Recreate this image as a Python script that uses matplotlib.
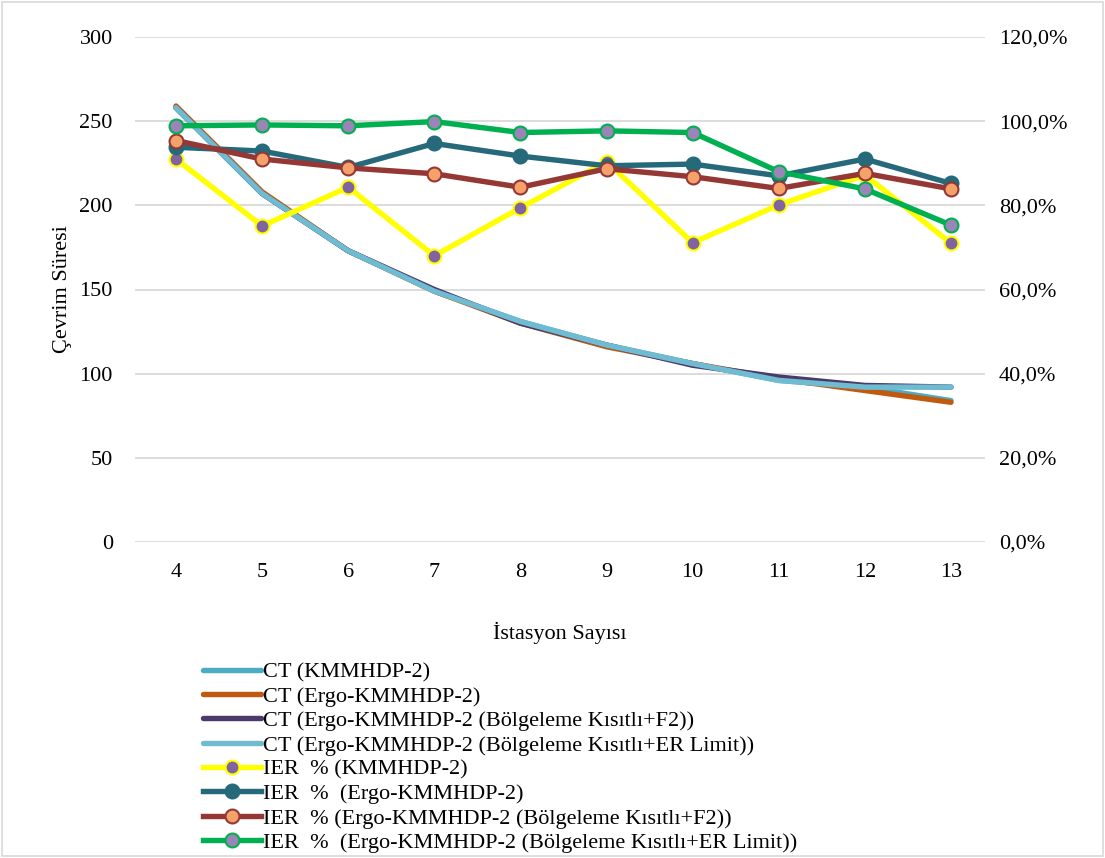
import matplotlib
matplotlib.use("Agg")
import matplotlib.pyplot as plt
from matplotlib.ticker import FuncFormatter
from matplotlib.patches import Rectangle

plt.rcParams["font.family"] = ["Liberation Serif", "DejaVu Serif"]

stations = [4, 5, 6, 7, 8, 9, 10, 11, 12, 13]

ct_kmm = [258, 207, 173, 149, 131, 117, 106, 96, 92, 84]
ct_ergo = [259, 208, 173, 149, 130, 116, 106, 97, 90, 83]
ct_f2 = [258, 207, 173, 150, 130, 117, 105, 98, 93, 92]
ct_er = [258, 207, 173, 149, 131, 117, 106, 96, 92, 92]

ier_kmm = [91.0, 75.1, 84.3, 68.0, 79.4, 90.4, 71.1, 80.1, 87.2, 71.0]
ier_ergo = [93.8, 92.9, 89.0, 94.7, 91.7, 89.4, 89.8, 87.0, 91.0, 85.2]
ier_f2 = [95.4, 91.0, 88.9, 87.5, 84.3, 88.7, 86.8, 84.0, 87.6, 83.9]
ier_er = [98.9, 99.1, 98.9, 99.9, 97.3, 97.7, 97.3, 88.0, 83.9, 75.3]

W, H = 1105, 858
fig = plt.figure(figsize=(W / 100, H / 100), dpi=100)
ax = fig.add_axes([135 / W, 1 - 542 / H, (985 - 135) / W, (542 - 37) / H])
ax2 = ax.twinx()

fs = 16
lw = 3.9

ax.plot(stations, ct_kmm, color="#4BACC6", lw=lw, solid_capstyle="round", label="CT (KMMHDP-2)")
ax.plot(stations, ct_ergo, color="#C05A0E", lw=lw, solid_capstyle="round", label="CT (Ergo-KMMHDP-2)")
ax.plot(stations, ct_f2, color="#4A3A6A", lw=lw, solid_capstyle="round",
        label="CT (Ergo-KMMHDP-2 (Bölgeleme Kısıtlı+F2))")
ax.plot(stations, ct_er, color="#6FBCD2", lw=lw, solid_capstyle="round",
        label="CT (Ergo-KMMHDP-2 (Bölgeleme Kısıtlı+ER Limit))")

ms = 10
mew = 1.5
ax2.plot(stations, ier_kmm, color="#FFFF00", lw=lw, marker="o", ms=ms,
         mfc="#8064A2", mec="#FFFF00", mew=mew, label="IER  % (KMMHDP-2)")
ax2.plot(stations, ier_ergo, color="#25697A", lw=lw, marker="o", ms=ms,
         mfc="#25697A", mec="#25697A", mew=mew, label="IER  %  (Ergo-KMMHDP-2)")
ax2.plot(stations, ier_f2, color="#953735", lw=lw, marker="o", ms=ms,
         mfc="#F5A26A", mec="#953735", mew=mew,
         label="IER  % (Ergo-KMMHDP-2 (Bölgeleme Kısıtlı+F2))")
ax2.plot(stations, ier_er, color="#00B050", lw=lw, marker="o", ms=ms,
         mfc="#9A84B8", mec="#00B050", mew=mew,
         label="IER  %  (Ergo-KMMHDP-2 (Bölgeleme Kısıtlı+ER Limit))")

ax.set_xlim(3.524, 13.395)
ax.set_ylim(0, 300)
ax2.set_ylim(0, 120)
ax.set_xticks(stations)
ax.set_yticks(range(0, 301, 50))
ax2.set_yticks(range(0, 121, 20))
ax2.yaxis.set_major_formatter(FuncFormatter(lambda v, p: f"{v:.1f}%".replace(".", ",")))

ax.grid(axis="y", color="#D9D9D9", lw=1.3)
ax.set_axisbelow(True)
for a in (ax, ax2):
    for s in a.spines.values():
        s.set_visible(False)
ax.tick_params(axis="both", length=0, labelsize=fs)
ax.tick_params(axis="y", pad=16)
ax.tick_params(axis="x", pad=15)
ax2.tick_params(axis="y", length=0, labelsize=fs, pad=10)

ax.set_xlabel("İstasyon Sayısı", fontsize=fs, labelpad=29)
ax.set_ylabel("Çevrim Süresi", fontsize=fs, labelpad=5)

h1, l1 = ax.get_legend_handles_labels()
h2, l2 = ax2.get_legend_handles_labels()
fig.legend(h1 + h2, l1 + l2, loc="upper left", bbox_to_anchor=(203 / W, 1 - 662 / H),
           frameon=False, fontsize=fs, handlelength=2.6, handletextpad=0.1,
           labelspacing=0.17, borderaxespad=0, borderpad=0)

fig.patches.append(Rectangle((0.002, 0.002), 0.996, 0.996, transform=fig.transFigure,
                             fill=False, edgecolor="#D9D9D9", lw=1.2))

fig.savefig("out.png", dpi=100, facecolor="white")
